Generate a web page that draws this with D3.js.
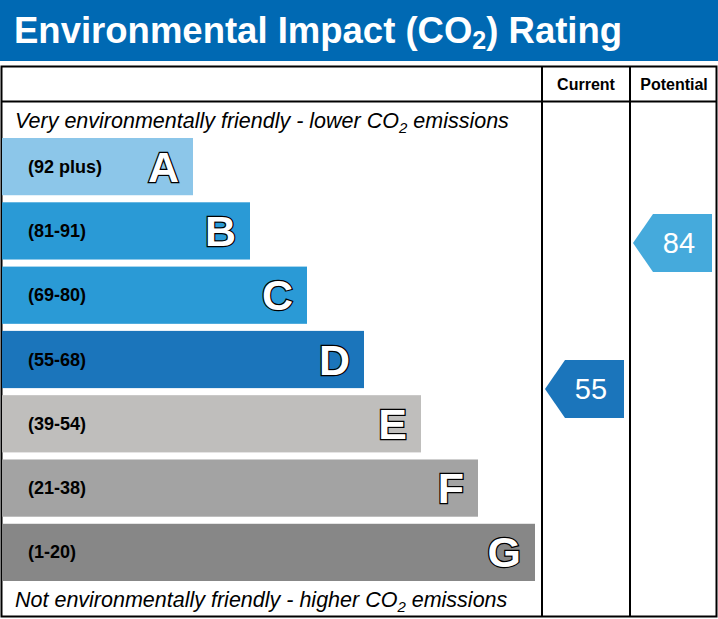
<!DOCTYPE html><html><head><meta charset="utf-8"><script src="https://cdn.jsdelivr.net/npm/d3@7"></script>
<style>body{margin:0;background:#fff}</style></head><body><svg id="c" width="718" height="619"></svg>
<script>
const bands=["A","B","C","D","E","F","G"];
const ranges=["(92 plus)","(81-91)","(69-80)","(55-68)","(39-54)","(21-38)","(1-20)"];
const colors=["#8cc6e9","#2a9ad6","#2a9ad6","#1b75bb","#bfbebc","#a3a3a3","#878787"];
const current=55, potential=84;
const svg=d3.select("#c");
const F="Liberation Sans, Arial, sans-serif";
svg.append("rect").attr("x",0).attr("y",0).attr("width",718).attr("height",61).attr("fill","#0069b3");
const t=svg.append("text").attr("x",14).attr("y",43).attr("fill","#fff").attr("font-family",F).attr("font-weight","bold").attr("font-size",36.5);
t.append("tspan").text("Environmental Impact (CO");t.append("tspan").attr("font-size",25).attr("dy",6).text("2");t.append("tspan").attr("dy",-6).text(") Rating");
const g=svg.append("g");
g.append("rect").attr("x",1.5).attr("y",66.5).attr("width",715).attr("height",550).attr("fill","none").attr("stroke","#000").attr("stroke-width",2);
g.append("line").attr("x1",1).attr("x2",717).attr("y1",101.5).attr("y2",101.5).attr("stroke","#000").attr("stroke-width",2);
[542,630].forEach(x=>g.append("line").attr("x1",x).attr("x2",x).attr("y1",66).attr("y2",617).attr("stroke","#000").attr("stroke-width",2));
g.append("text").attr("x",586).attr("y",90).attr("text-anchor","middle").attr("font-family",F).attr("font-weight","bold").attr("font-size",16).text("Current");
g.append("text").attr("x",674).attr("y",90).attr("text-anchor","middle").attr("font-family",F).attr("font-weight","bold").attr("font-size",16).text("Potential");
function sub(y,a,b){const s=g.append("text").attr("x",15).attr("y",y).attr("font-family",F).attr("font-style","italic").attr("font-size",21.5);
s.append("tspan").text(a);s.append("tspan").attr("font-size",15).attr("dy",5).text("2");s.append("tspan").attr("dy",-5).text(b);}
sub(128,"Very environmentally friendly - lower CO"," emissions");
sub(607,"Not environmentally friendly - higher CO"," emissions");
const y=d3.scaleBand().domain(bands).range([138,581]).paddingInner(0.11).paddingOuter(0);
const w=d3.scaleLinear().domain([0,6]).range([191,533]);
bands.forEach((b,i)=>{
 const bw=w(i);
 g.append("rect").attr("x",2).attr("y",y(b)).attr("width",bw).attr("height",y.bandwidth()).attr("fill",colors[i]);
 g.append("text").attr("x",28).attr("y",y(b)+y.bandwidth()/2+6).attr("font-family",F).attr("font-weight","bold").attr("font-size",18).attr("fill","#000").text(ranges[i]);
 g.append("text").attr("x",2+bw-14).attr("y",y(b)+y.bandwidth()/2+15).attr("text-anchor","end").attr("font-family",F).attr("font-weight","bold").attr("font-size",43).attr("fill","#fff").attr("stroke","#000").attr("stroke-width",2.5).attr("paint-order","stroke").text(b);
});
const ay=d3.scaleLinear().domain([84,55]).range([214,360]);
function arrow(v,x0,col){
 const yy=ay(v), h=58, x1=x0+79;
 g.append("path").attr("d",`M${x0},${yy+h/2}L${x0+20},${yy}L${x1},${yy}L${x1},${yy+h}L${x0+20},${yy+h}Z`).attr("fill",col);
 g.append("text").attr("x",x0+46).attr("y",yy+h/2+10).attr("text-anchor","middle").attr("font-family",F).attr("font-size",29).attr("fill","#fff").text(v);
}
arrow(current,545,"#1b75bb");
arrow(potential,633,"#45aadc");
</script></body></html>
